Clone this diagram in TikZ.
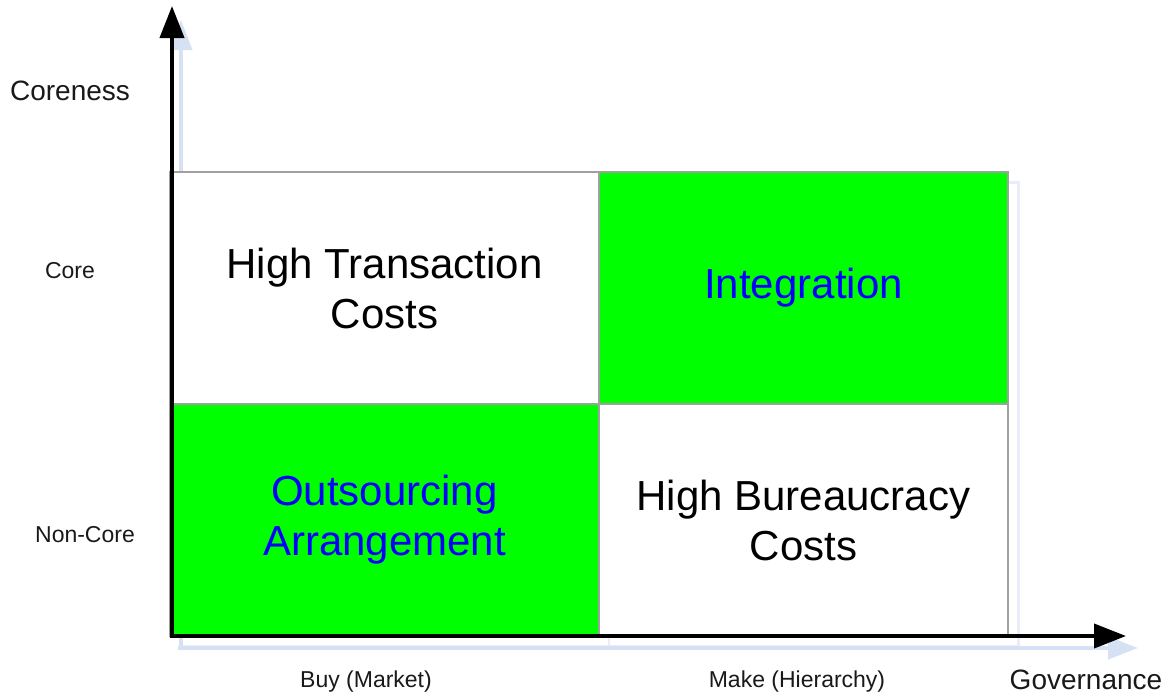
\documentclass[tikz,border=0pt]{standalone}
\usepackage{fontspec}
\setmainfont{Liberation Sans}
\usetikzlibrary{arrows.meta, calc}
\definecolor{cellgreen}{RGB}{0,255,0}
\definecolor{gridgray}{RGB}{160,160,160}
\definecolor{shadowblue}{RGB}{214,226,243}
\definecolor{shadowpale}{RGB}{232,238,247}

\begin{document}
\begin{tikzpicture}[x=1pt, y=-1pt, line cap=butt, line join=miter,
		cell/.style={draw=gridgray, line width=1.6pt, inner sep=0pt,
			minimum height=232pt, align=center,
			font=\fontsize{42}{50}\selectfont},
		axis/.style={line width=4pt, -{Triangle[length=32pt,width=24pt]}},
		axis shadow/.style={shadowblue, line width=4pt, -{Triangle[length=30pt,width=22pt]}},
		ticklabel/.style={font=\fontsize{23}{27}\selectfont, text=black!90},
		axislabel/.style={font=\fontsize{28}{33}\selectfont, text=black!90}]
		
		\useasboundingbox (0,0) rectangle (1172,696);
		
		% ===== Shadows behind the grid and axes =====
		\draw[shadowpale, line width=3pt] (180,182) rectangle (1018,646);
		\draw[shadowpale, line width=2pt] (609,182) -- (609,646);
		\coordinate (O) at (172,636);
		\coordinate (ytop) at (172,6);
		\coordinate (xend) at (1126,636);
		\draw[axis shadow] ($(O)+(9,12)$) -- ($(ytop)+(9,14)$);
		\draw[axis shadow] ($(O)+(6,12)$) -- ($(xend)+(12,12)$);
		
		% ===== Quadrants =====
		\node[cell, minimum width=429pt, fill=white] (hightc) at (384.5,288) {High Transaction\\Costs};
		\node[cell, minimum width=409pt, fill=cellgreen, text=blue] (integ) at (803.5,288) {Integration};
		\node[cell, minimum width=429pt, fill=cellgreen, text=blue] (outsrc) at (384.5,520) {Outsourcing\\Arrangement};
		\node[cell, minimum width=409pt, fill=white] (highbc) at (803.5,520) {High Bureaucracy\\Costs};
		
		% ===== Axes =====
		\draw[axis] ($(O)+(0,2)$) -- (ytop);
		\draw[axis] ($(O)+(-2,0)$) -- (xend);
		
		% ===== Axis labels =====
		\node[axislabel] (coreness) at (70,91) {Coreness};
		\node[ticklabel] (core) at (70,271) {Core};
		\node[ticklabel] (noncore) at (85,535) {Non-Core};
		\node[ticklabel] (buy) at (366,682) {Buy (Market)};
		\node[ticklabel] (make) at (797,682) {Make (Hierarchy)};
		\node[axislabel] (gov) at (1086,680) {Governance};
		
	\end{tikzpicture}
\end{document}
